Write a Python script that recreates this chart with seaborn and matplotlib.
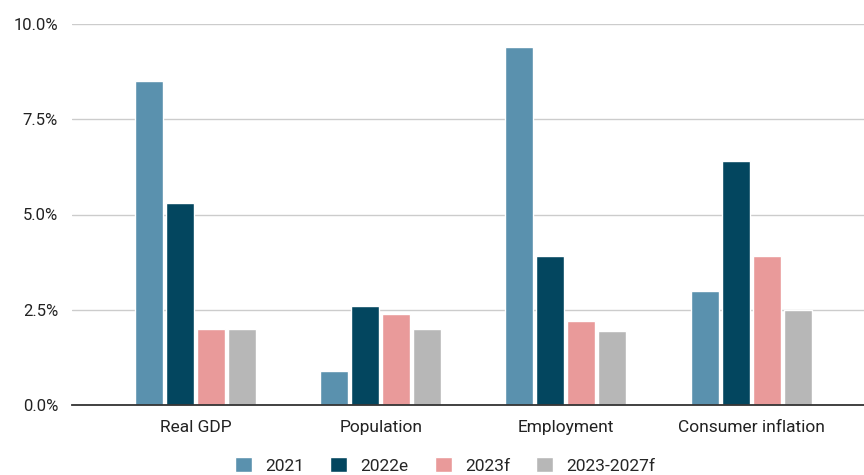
import pandas as pd
import numpy as np
import matplotlib
matplotlib.use("Agg")
import matplotlib.pyplot as plt
import seaborn as sns
from matplotlib.ticker import FuncFormatter

sns.set_style("white")
plt.rcParams['font.family'] = ['Roboto', 'DejaVu Sans']

# data (percent)
categories = ['Real GDP', 'Population', 'Employment', 'Consumer inflation']
series = ['2021', '2022e', '2023f', '2023-2027f']
v2021 = [8.5, 0.9, 9.4, 3.0]
v2022e = [5.3, 2.6, 3.9, 6.4]
v2023f = [2.0, 2.4, 2.2, 3.9]
v2023_27 = [2.0, 2.0, 1.95, 2.5]
colors = ['#5a91ae', '#03465f', '#e99a9a', '#b7b7b7']

rows = []
for s, vals in zip(series, [v2021, v2022e, v2023f, v2023_27]):
    for c, v in zip(categories, vals):
        rows.append({'Category': c, 'Series': s, 'Value': v})
df = pd.DataFrame(rows)

fig = plt.figure(figsize=(8.64, 4.75), dpi=100)
ax = fig.add_axes([72/864, 70/475, 1 - 72/864, 381/475])

sns.barplot(data=df, x='Category', y='Value', hue='Series', order=categories,
            hue_order=series, palette=colors, width=0.67, gap=0.1,
            saturation=1, ax=ax, legend=True)

ax.set_ylim(0, 10)
ax.set_xlim(-0.668, 3.61)
ax.set_yticks([0, 2.5, 5, 7.5, 10])
ax.yaxis.set_major_formatter(FuncFormatter(lambda v, p: f'{v:.1f}%'))
ax.grid(axis='y', color='#cccccc', linewidth=1)
ax.set_axisbelow(True)
for sp in ['top', 'right', 'left']:
    ax.spines[sp].set_visible(False)
ax.spines['bottom'].set_color('#333333')
ax.spines['bottom'].set_linewidth(1.3)
ax.spines['bottom'].set_zorder(5)
ax.tick_params(axis='x', length=0, labelsize=12.5, colors='#222222', pad=11)
ax.tick_params(axis='y', length=0, labelsize=12, colors='#222222', pad=10)
ax.set_xlabel('')
ax.set_ylabel('')

ax.legend(loc='upper center', bbox_to_anchor=(0.5 - 23/792, -0.095), ncol=4,
          frameon=False, fontsize=12.5, handlelength=1.0, handleheight=1.0,
          columnspacing=1.5, handletextpad=0.75)

fig.savefig('out.png', dpi=100)
